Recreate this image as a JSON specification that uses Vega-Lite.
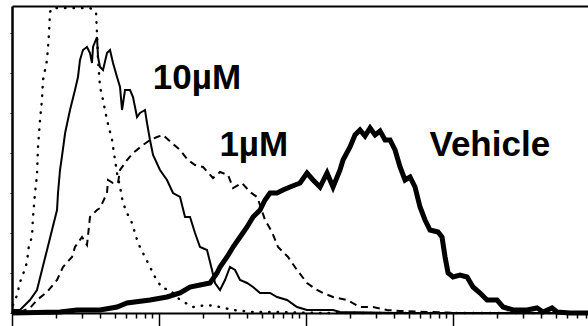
{
  "$schema": "https://vega.github.io/schema/vega-lite/v6.json",
  "width": 576,
  "height": 307,
  "autosize": {"type": "none"},
  "padding": {"left": 12, "top": 6, "right": 0, "bottom": 13},
  "background": "white",
  "config": {"view": {"stroke": null}},
  "datasets": {
    "control": [
      {"channel": 1.7, "count": 8}, {"channel": 5.2, "count": 13}, {"channel": 10.4, "count": 20},
      {"channel": 12, "count": 28}, {"channel": 17.4, "count": 36}, {"channel": 22.6, "count": 44},
      {"channel": 26.1, "count": 51}, {"channel": 27.9, "count": 60}, {"channel": 29.6, "count": 68},
      {"channel": 34.8, "count": 76}, {"channel": 36.6, "count": 96}, {"channel": 40.1, "count": 120},
      {"channel": 43.5, "count": 138}, {"channel": 45.3, "count": 166}, {"channel": 48.8, "count": 193},
      {"channel": 52.2, "count": 213}, {"channel": 54, "count": 233}, {"channel": 61, "count": 253},
      {"channel": 64.5, "count": 280}, {"channel": 66.2, "count": 301}, {"channel": 69.7, "count": 305},
      {"channel": 74.9, "count": 305}, {"channel": 135.8, "count": 305}, {"channel": 141.1, "count": 303},
      {"channel": 146.3, "count": 301}, {"channel": 148, "count": 280}, {"channel": 149.8, "count": 253},
      {"channel": 153.3, "count": 226}, {"channel": 158.5, "count": 213}, {"channel": 165.4, "count": 193},
      {"channel": 174.2, "count": 173}, {"channel": 179.4, "count": 153}, {"channel": 182.9, "count": 140},
      {"channel": 188.1, "count": 126}, {"channel": 193.3, "count": 110}, {"channel": 200.3, "count": 100},
      {"channel": 209, "count": 90}, {"channel": 214.2, "count": 80}, {"channel": 219.4, "count": 70},
      {"channel": 228.1, "count": 60}, {"channel": 240.3, "count": 46}, {"channel": 249, "count": 36},
      {"channel": 261.2, "count": 25}, {"channel": 275.2, "count": 23}, {"channel": 292.6, "count": 13},
      {"channel": 315.2, "count": 6}, {"channel": 339.6, "count": 8}, {"channel": 362.2, "count": 6},
      {"channel": 384.9, "count": 3}, {"channel": 419.7, "count": 1}, {"channel": 466.7, "count": 1},
      {"channel": 536.4, "count": 0}, {"channel": 1003, "count": 0}
    ],
    "high": [
      {"channel": 0, "count": 0}, {"channel": 1.7, "count": 3}, {"channel": 13.9, "count": 3},
      {"channel": 22.6, "count": 8}, {"channel": 31.3, "count": 13}, {"channel": 43.5, "count": 23},
      {"channel": 52.2, "count": 43}, {"channel": 61, "count": 63}, {"channel": 69.7, "count": 83},
      {"channel": 78.4, "count": 103}, {"channel": 80.1, "count": 120}, {"channel": 83.6, "count": 143},
      {"channel": 87.1, "count": 157}, {"channel": 92.5, "count": 180}, {"channel": 101, "count": 203},
      {"channel": 109.7, "count": 223}, {"channel": 114.9, "count": 236}, {"channel": 118.4, "count": 253},
      {"channel": 123.6, "count": 263}, {"channel": 130.6, "count": 266}, {"channel": 135.8, "count": 260},
      {"channel": 139.3, "count": 250}, {"channel": 141.1, "count": 266}, {"channel": 144.5, "count": 271},
      {"channel": 148, "count": 276}, {"channel": 149.8, "count": 256}, {"channel": 153.3, "count": 246},
      {"channel": 158.5, "count": 243}, {"channel": 165.4, "count": 260}, {"channel": 170.7, "count": 263},
      {"channel": 175.9, "count": 250}, {"channel": 182.9, "count": 236}, {"channel": 188.1, "count": 226},
      {"channel": 191.6, "count": 203}, {"channel": 196.8, "count": 223}, {"channel": 205.5, "count": 223},
      {"channel": 210.7, "count": 216}, {"channel": 217.7, "count": 196}, {"channel": 222.9, "count": 200},
      {"channel": 231.6, "count": 203}, {"channel": 235.1, "count": 190}, {"channel": 240.3, "count": 173},
      {"channel": 245.6, "count": 158}, {"channel": 257.7, "count": 143}, {"channel": 269.9, "count": 133},
      {"channel": 280.4, "count": 120}, {"channel": 292.6, "count": 116}, {"channel": 301.3, "count": 96},
      {"channel": 310, "count": 96}, {"channel": 318.7, "count": 80}, {"channel": 327.4, "count": 66},
      {"channel": 339.6, "count": 63}, {"channel": 348.3, "count": 43}, {"channel": 353.5, "count": 30},
      {"channel": 362.2, "count": 23}, {"channel": 370.9, "count": 33}, {"channel": 379.6, "count": 46},
      {"channel": 388.4, "count": 43}, {"channel": 397.1, "count": 33}, {"channel": 409.3, "count": 30},
      {"channel": 419.7, "count": 26}, {"channel": 431.9, "count": 20}, {"channel": 449.3, "count": 20},
      {"channel": 461.5, "count": 16}, {"channel": 478.9, "count": 13}, {"channel": 496.3, "count": 6},
      {"channel": 513.7, "count": 3}, {"channel": 524.2, "count": 3}, {"channel": 559, "count": 3},
      {"channel": 571.2, "count": 1}, {"channel": 675.7, "count": 0}, {"channel": 1003, "count": 0}
    ],
    "low": [
      {"channel": 13.9, "count": 1}, {"channel": 31.3, "count": 5}, {"channel": 43.5, "count": 13},
      {"channel": 61, "count": 21}, {"channel": 78.4, "count": 33}, {"channel": 88.8, "count": 46},
      {"channel": 104.5, "count": 56}, {"channel": 109.7, "count": 66}, {"channel": 121.9, "count": 76},
      {"channel": 130.6, "count": 68}, {"channel": 135.8, "count": 96}, {"channel": 148, "count": 103},
      {"channel": 153.3, "count": 105}, {"channel": 165.4, "count": 120}, {"channel": 167.2, "count": 133},
      {"channel": 175.9, "count": 130}, {"channel": 184.6, "count": 130}, {"channel": 188.1, "count": 143},
      {"channel": 200.3, "count": 153}, {"channel": 210.7, "count": 160}, {"channel": 228.1, "count": 168},
      {"channel": 240.3, "count": 173}, {"channel": 252.5, "count": 176}, {"channel": 263, "count": 178},
      {"channel": 278.6, "count": 170}, {"channel": 292.6, "count": 163}, {"channel": 306.5, "count": 153},
      {"channel": 318.7, "count": 148}, {"channel": 332.6, "count": 146}, {"channel": 350, "count": 135},
      {"channel": 362.2, "count": 141}, {"channel": 376.2, "count": 138}, {"channel": 384.9, "count": 125},
      {"channel": 400.5, "count": 130}, {"channel": 414.5, "count": 121}, {"channel": 426.7, "count": 116},
      {"channel": 431.9, "count": 108}, {"channel": 440.6, "count": 93}, {"channel": 452.8, "count": 81},
      {"channel": 463.2, "count": 66}, {"channel": 471.9, "count": 61}, {"channel": 480.7, "count": 56},
      {"channel": 496.3, "count": 43}, {"channel": 513.7, "count": 30}, {"channel": 531.2, "count": 23},
      {"channel": 541.6, "count": 20}, {"channel": 559, "count": 16}, {"channel": 583.4, "count": 13},
      {"channel": 606, "count": 6}, {"channel": 628.7, "count": 6}, {"channel": 653.1, "count": 3},
      {"channel": 675.7, "count": 2}, {"channel": 727.9, "count": 1}, {"channel": 780.2, "count": 0},
      {"channel": 1003, "count": 0}
    ],
    "vehicle": [
      {"channel": 0, "count": 0}, {"channel": 83.6, "count": 1}, {"channel": 113.2, "count": 3},
      {"channel": 153.3, "count": 3}, {"channel": 182.9, "count": 6}, {"channel": 200.3, "count": 10},
      {"channel": 240.3, "count": 13}, {"channel": 269.9, "count": 16}, {"channel": 292.6, "count": 20},
      {"channel": 310, "count": 26}, {"channel": 327.4, "count": 28}, {"channel": 344.8, "count": 30},
      {"channel": 357, "count": 40}, {"channel": 362.2, "count": 46}, {"channel": 374.4, "count": 56},
      {"channel": 384.9, "count": 66}, {"channel": 397.1, "count": 76}, {"channel": 409.3, "count": 86},
      {"channel": 419.7, "count": 96}, {"channel": 431.9, "count": 103}, {"channel": 440.6, "count": 113},
      {"channel": 449.3, "count": 120}, {"channel": 461.5, "count": 120}, {"channel": 471.9, "count": 123},
      {"channel": 484.1, "count": 126}, {"channel": 501.6, "count": 130}, {"channel": 513.7, "count": 140},
      {"channel": 524.2, "count": 133}, {"channel": 536.4, "count": 126}, {"channel": 548.6, "count": 140},
      {"channel": 559, "count": 126}, {"channel": 571.2, "count": 143}, {"channel": 576.4, "count": 153},
      {"channel": 588.6, "count": 166}, {"channel": 597.3, "count": 178}, {"channel": 606, "count": 183},
      {"channel": 614.7, "count": 177}, {"channel": 623.5, "count": 185}, {"channel": 632.2, "count": 178},
      {"channel": 640.9, "count": 182}, {"channel": 649.6, "count": 173}, {"channel": 658.3, "count": 173},
      {"channel": 667, "count": 163}, {"channel": 675.7, "count": 146}, {"channel": 684.4, "count": 133},
      {"channel": 693.1, "count": 136}, {"channel": 701.8, "count": 126}, {"channel": 710.5, "count": 106},
      {"channel": 719.2, "count": 93}, {"channel": 727.9, "count": 83}, {"channel": 741.9, "count": 81},
      {"channel": 748.8, "count": 76}, {"channel": 754.1, "count": 56}, {"channel": 759.3, "count": 40},
      {"channel": 768, "count": 36}, {"channel": 780.2, "count": 38}, {"channel": 792.4, "count": 36},
      {"channel": 802.8, "count": 26}, {"channel": 815, "count": 20}, {"channel": 827.2, "count": 13},
      {"channel": 844.6, "count": 13}, {"channel": 855.1, "count": 6}, {"channel": 872.5, "count": 3},
      {"channel": 896.9, "count": 3}, {"channel": 914.3, "count": 5}, {"channel": 924.7, "count": 1},
      {"channel": 940.4, "count": 5}, {"channel": 949.1, "count": 1}, {"channel": 971.7, "count": 0},
      {"channel": 1003, "count": 0}
    ],
    "labels": [
      {"label": "10µM", "channel": 322, "count": 235},
      {"label": "1µM", "channel": 421, "count": 168},
      {"label": "Vehicle", "channel": 832, "count": 168}
    ]
  },
  "resolve": {"axis": {"x": "independent"}},
  "layer": [
    {
      "data": {"name": "control"},
      "mark": {"type": "line", "color": "black", "strokeWidth": 2.4, "strokeDash": [0.5, 8], "strokeCap": "round"},
      "encoding": {
        "x": {
          "field": "channel", "type": "quantitative",
          "scale": {"domain": [0, 1003], "nice": false, "zero": false},
          "axis": {
            "orient": "bottom", "title": null, "labels": false, "grid": false,
            "domainColor": "black", "domainWidth": 2,
            "tickColor": "black", "tickWidth": 1.5,
            "values": [0, 77, 122, 154, 179, 199, 216, 231, 244,
                       256, 333, 378, 410, 435, 455, 472, 487, 500,
                       512, 589, 634, 666, 691, 711, 728, 743, 756,
                       768, 845, 890, 922, 947, 967, 984, 999],
            "tickSize": {"condition": {"test": "indexof([0, 256, 512, 768], datum.value) >= 0", "value": 13}, "value": 5}
          }
        },
        "y": {
          "field": "count", "type": "quantitative",
          "scale": {"domain": [0, 307], "nice": false},
          "axis": {
            "orient": "left", "title": null, "labels": false, "grid": false,
            "domainColor": "black", "domainWidth": 2.5,
            "tickColor": "black", "tickWidth": 1, "tickSize": 2,
            "values": [0, 10, 20, 30, 40, 50, 60, 70, 80, 90, 100, 110, 120, 130, 140, 150,
                       160, 170, 180, 190, 200, 210, 220, 230, 240, 250, 260, 270, 280, 290, 300]
          }
        }
      }
    },
    {
      "data": {"name": "low"},
      "mark": {"type": "line", "color": "black", "strokeWidth": 2, "strokeDash": [7, 5]},
      "encoding": {
        "x": {
          "field": "channel", "type": "quantitative",
          "axis": {"orient": "top", "title": null, "labels": false, "ticks": false, "grid": false,
                   "domainColor": "black", "domainWidth": 2}
        },
        "y": {"field": "count", "type": "quantitative"}
      }
    },
    {
      "data": {"name": "high"},
      "mark": {"type": "line", "color": "black", "strokeWidth": 2},
      "encoding": {
        "x": {"field": "channel", "type": "quantitative", "axis": null},
        "y": {"field": "count", "type": "quantitative"}
      }
    },
    {
      "data": {"name": "vehicle"},
      "mark": {"type": "line", "color": "black", "strokeWidth": 5, "strokeJoin": "miter"},
      "encoding": {
        "x": {"field": "channel", "type": "quantitative", "axis": null},
        "y": {"field": "count", "type": "quantitative"}
      }
    },
    {
      "data": {"name": "labels"},
      "mark": {"type": "text", "font": "Liberation Sans", "fontWeight": "bold", "fontSize": 35,
               "align": "center", "baseline": "middle", "color": "black"},
      "encoding": {
        "x": {"field": "channel", "type": "quantitative", "axis": null},
        "y": {"field": "count", "type": "quantitative"},
        "text": {"field": "label"}
      }
    }
  ]
}
